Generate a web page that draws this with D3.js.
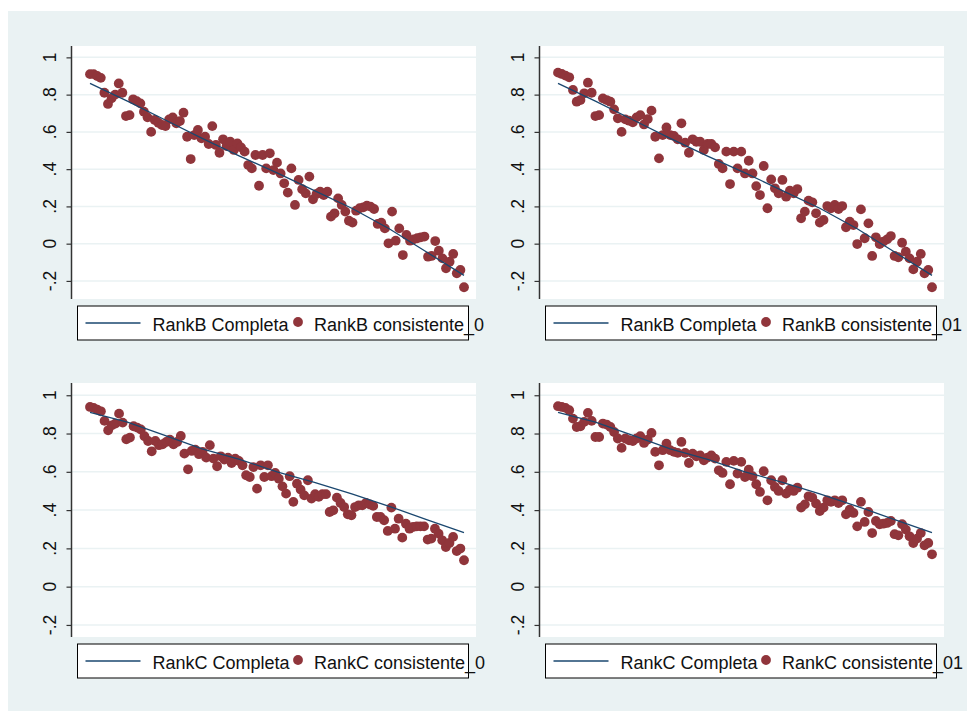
<!DOCTYPE html>
<html>
<head>
<meta charset="utf-8">
<script src="https://cdn.jsdelivr.net/npm/d3@7"></script>
<style>
  body { margin: 0; background: #fff; }
  text { font-family: "Liberation Sans", Arial, sans-serif; }
</style>
</head>
<body>
<div id="chart"></div>
<script>
// values, points are in rank order (evenly spaced)
var rankB_cons0 = [0.91,0.91,0.90,0.89,0.81,0.75,0.78,0.80,0.86,0.81,0.685,0.69,0.775,0.765,0.753,0.708,0.678,0.60,0.664,0.649,
  0.637,0.631,0.667,0.678,0.646,0.658,0.703,0.574,0.454,0.583,0.61,0.565,0.574,0.535,0.631,0.53,0.488,0.56,0.524,0.547,
  0.503,0.538,0.517,0.494,0.422,0.404,0.476,0.311,0.476,0.404,0.485,0.395,0.435,0.377,0.324,0.274,0.404,0.208,0.342,0.292,
  0.27,0.36,0.238,0.267,0.279,0.261,0.279,0.145,0.163,0.243,0.208,0.172,0.123,0.113,0.177,0.19,0.195,0.204,0.199,0.186,
  0.106,0.113,0.082,0.002,0.172,0.016,0.082,-0.061,0.047,0.016,0.023,0.029,0.034,0.038,-0.07,-0.066,0.014,-0.038,-0.079,-0.132,
  -0.097,-0.055,-0.159,-0.141,-0.234];

var rankB_cons01 = [0.918,0.911,0.902,0.893,0.825,0.762,0.771,0.807,0.864,0.81,0.685,0.69,0.78,0.771,0.762,0.721,0.673,0.60,0.667,0.66,
  0.651,0.678,0.69,0.64,0.669,0.714,0.574,0.458,0.583,0.624,0.583,0.578,0.56,0.646,0.542,0.488,0.56,0.547,0.547,0.503,
  0.535,0.535,0.517,0.428,0.404,0.494,0.32,0.494,0.404,0.494,0.377,0.445,0.377,0.309,0.261,0.417,0.19,0.345,0.297,0.27,
  0.342,0.252,0.284,0.27,0.293,0.136,0.172,0.231,0.222,0.163,0.113,0.127,0.202,0.19,0.208,0.186,0.202,0.088,0.118,0.10,
  -0.002,0.184,0.029,0.109,-0.066,0.034,-0.002,0.011,0.023,0.041,-0.066,-0.073,0.005,-0.043,-0.079,-0.138,-0.097,-0.055,-0.159,-0.141,
  -0.234];

var rankC_cons0 = [0.939,0.934,0.925,0.916,0.866,0.817,0.843,0.852,0.904,0.857,0.77,0.779,0.838,0.831,0.821,0.786,0.761,0.707,0.761,0.739,
  0.744,0.756,0.768,0.744,0.756,0.787,0.695,0.613,0.709,0.716,0.692,0.704,0.674,0.739,0.669,0.629,0.681,0.664,0.674,0.646,
  0.669,0.657,0.634,0.582,0.573,0.625,0.512,0.634,0.573,0.634,0.577,0.594,0.564,0.524,0.486,0.577,0.443,0.538,0.507,0.477,
  0.556,0.46,0.483,0.469,0.483,0.483,0.39,0.399,0.465,0.437,0.416,0.378,0.373,0.416,0.425,0.425,0.437,0.43,0.422,0.364,
  0.364,0.347,0.291,0.413,0.303,0.355,0.256,0.329,0.303,0.312,0.315,0.315,0.315,0.246,0.251,0.303,0.277,0.242,0.207,0.228,
  0.26,0.186,0.199,0.138];

var rankC_cons01 = [0.943,0.939,0.934,0.922,0.878,0.834,0.838,0.861,0.908,0.866,0.782,0.782,0.852,0.847,0.834,0.808,0.774,0.725,0.774,0.765,
  0.761,0.774,0.786,0.751,0.768,0.803,0.704,0.634,0.713,0.747,0.713,0.704,0.699,0.756,0.699,0.646,0.695,0.681,0.686,0.66,
  0.674,0.686,0.669,0.608,0.594,0.652,0.535,0.657,0.591,0.652,0.573,0.611,0.577,0.535,0.495,0.603,0.451,0.556,0.521,0.50,
  0.556,0.486,0.507,0.50,0.517,0.413,0.43,0.472,0.465,0.434,0.395,0.413,0.451,0.443,0.451,0.437,0.451,0.378,0.402,0.385,
  0.315,0.443,0.338,0.39,0.28,0.343,0.326,0.329,0.333,0.343,0.274,0.268,0.326,0.298,0.263,0.228,0.251,0.28,0.216,0.228,
  0.169];

// the "Completa" lines, given at rank positions 0..100
var lineRank = [0, 10, 20, 30, 40, 50, 60, 70, 80, 90, 100];
var rankB_completa = [0.86, 0.765, 0.665, 0.565, 0.47, 0.38, 0.285, 0.19, 0.08, -0.045, -0.17];
var rankC_completa = [0.91, 0.86, 0.79, 0.72, 0.665, 0.60, 0.545, 0.485, 0.42, 0.35, 0.282];

var yTicks = [-0.2, 0, 0.2, 0.4, 0.6, 0.8, 1];
var yTickLabels = ["-.2", "0", ".2", ".4", ".6", ".8", "1"];

var panels = [
  {pts: rankB_cons0,  line: rankB_completa, lab1: "RankB Completa", lab2: "RankB consistente_0",  col: 0, row: 0},
  {pts: rankB_cons01, line: rankB_completa, lab1: "RankB Completa", lab2: "RankB consistente_01", col: 1, row: 0},
  {pts: rankC_cons0,  line: rankC_completa, lab1: "RankC Completa", lab2: "RankC consistente_0",  col: 0, row: 1},
  {pts: rankC_cons01, line: rankC_completa, lab1: "RankC Completa", lab2: "RankC consistente_01", col: 1, row: 1}
];

// layout of the 2x2 grid
var plotLeft = [72, 540],
    plotW = 404,
    plotTop = [46, 383],
    plotBottom = [299, 637],
    yDomains = [[-0.297, 1.061], [-0.263, 1.064]];

var navy = "#1a476f", maroon = "#90353b", bluish = "#eaf2f3";

var svg = d3.select("#chart").append("svg")
    .attr("width", 967)
    .attr("height", 711);

// graph region
svg.append("rect")
    .attr("x", 8).attr("y", 11)
    .attr("width", 959).attr("height", 700)
    .attr("fill", bluish);

panels.forEach(function(p) {
    var left = plotLeft[p.col], top = plotTop[p.row], bottom = plotBottom[p.row];

    var xScale = d3.scaleLinear()
        .domain([0, 100])
        .range([left + 18, left + 392]);

    var yScale = d3.scaleLinear()
        .domain(yDomains[p.row])
        .range([bottom, top]);

    var g = svg.append("g");

    // white plot region
    g.append("rect")
        .attr("x", left).attr("y", top)
        .attr("width", plotW).attr("height", bottom - top)
        .attr("fill", "#fff");

    // gridlines
    g.selectAll(".grid")
        .data(yTicks)
        .enter().append("line")
        .attr("x1", left).attr("x2", left + plotW)
        .attr("y1", function(d) { return yScale(d); })
        .attr("y2", function(d) { return yScale(d); })
        .attr("stroke", bluish)
        .attr("stroke-width", 1.5);

    // y axis (ticks only, labels drawn below so they can be rotated)
    var axis = g.append("g")
        .attr("transform", "translate(" + (left - 0.5) + ",0)")
        .call(d3.axisLeft(yScale)
            .tickValues(yTicks)
            .tickSize(5)
            .tickFormat(""));
    axis.select(".domain")
        .attr("d", "M0," + top + "V" + bottom)
        .attr("stroke", "#333")
        .attr("stroke-width", 1.5);
    axis.selectAll(".tick line").attr("stroke", "#333").attr("stroke-width", 1.2);

    g.selectAll(".ylab")
        .data(yTicks)
        .enter().append("text")
        .attr("class", "ylab")
        .attr("transform", function(d) { return "translate(" + (left - 16) + "," + yScale(d) + ") rotate(-90)"; })
        .attr("text-anchor", "middle")
        .style("font-size", "17.5px")
        .attr("fill", "#111")
        .text(function(d, i) { return yTickLabels[i]; });

    // the Completa line
    var line = d3.line()
        .x(function(d, i) { return xScale(lineRank[i]); })
        .y(function(d) { return yScale(d); });

    // dots
    var n = p.pts.length;
    g.selectAll(".dot")
        .data(p.pts)
        .enter().append("circle")
        .attr("class", "dot")
        .attr("cx", function(d, i) { return xScale(i * 100 / (n - 1)); })
        .attr("cy", function(d) { return yScale(d); })
        .attr("r", 4.9)
        .attr("fill", maroon);

    g.append("path")
        .datum(p.line)
        .attr("d", line)
        .attr("fill", "none")
        .attr("stroke", navy)
        .attr("stroke-width", 1.3);

    // legend
    var lx = left + 5.5, ly = bottom + 7;
    g.append("rect")
        .attr("x", lx).attr("y", ly)
        .attr("width", 391).attr("height", 34)
        .attr("fill", "#fff")
        .attr("stroke", "#000")
        .attr("stroke-width", 1);
    g.append("line")
        .attr("x1", lx + 8).attr("x2", lx + 63)
        .attr("y1", ly + 17).attr("y2", ly + 17)
        .attr("stroke", navy).attr("stroke-width", 1.3);
    g.append("text")
        .attr("x", lx + 75).attr("y", ly + 25)
        .style("font-size", "18px")
        .attr("fill", "#111")
        .text(p.lab1);
    g.append("circle")
        .attr("cx", lx + 220.5).attr("cy", ly + 16)
        .attr("r", 4.9)
        .attr("fill", maroon);
    g.append("text")
        .attr("x", lx + 236.5).attr("y", ly + 25)
        .style("font-size", "18px")
        .attr("fill", "#111")
        .text(p.lab2);
});
</script>
</body>
</html>
